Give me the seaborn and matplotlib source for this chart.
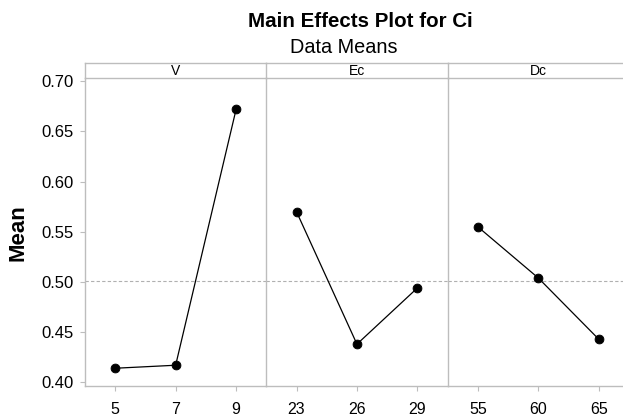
import matplotlib
matplotlib.use("Agg")
import matplotlib.pyplot as plt
import seaborn as sns
import pandas as pd

sns.set_theme(style="white")
plt.rcParams['font.family'] = ['Liberation Sans', 'DejaVu Sans']
plt.rcParams['text.color'] = 'black'
plt.rcParams['axes.labelcolor'] = 'black'
plt.rcParams['xtick.color'] = 'black'
plt.rcParams['ytick.color'] = 'black'

# Data
factors = ["V", "Ec", "Dc"]
v_levels = ["5", "7", "9"]
v_means = [0.414, 0.417, 0.672]
ec_levels = ["23", "26", "29"]
ec_means = [0.570, 0.438, 0.494]
dc_levels = ["55", "60", "65"]
dc_means = [0.555, 0.504, 0.443]
y_ticks = [0.40, 0.45, 0.50, 0.55, 0.60, 0.65, 0.70]
grand_mean = (sum(v_means) + sum(ec_means) + sum(dc_means)) / 9

levels = [v_levels, ec_levels, dc_levels]
means = [v_means, ec_means, dc_means]

W, H = 623, 419
fig = plt.figure(figsize=(W / 100, H / 100), dpi=100)

grey = "#bdbdbd"
left_px = 85.0
pw = 181.3
bottom_px = 386.0
top_px = 78.3
strip_top_px = 62.7

for i, (fac, lev, mv) in enumerate(zip(factors, levels, means)):
    x0 = (left_px + i * pw) / W
    ax = fig.add_axes([x0, (H - bottom_px) / H, pw / W, (bottom_px - top_px) / H])
    df = pd.DataFrame({"level": lev, "mean": mv})
    sns.pointplot(data=df, x="level", y="mean", color="black", ax=ax,
                  errorbar=None, markers="o", linewidth=0.9,
                  markersize=6.3)
    ax.axhline(grand_mean, color="#b0b0b0", linestyle=(0, (3, 2)), linewidth=0.8, zorder=0)
    ax.set_xlim(-0.5, 2.5)
    ax.set_ylim(0.3963, 0.703)
    ax.set_xlabel("")
    ax.set_ylabel("")
    ax.set_yticks(y_ticks)
    for side in ["top", "right"]:
        ax.spines[side].set_visible(False)
    ax.spines["bottom"].set_color(grey)
    ax.spines["left"].set_color(grey)
    ax.spines["bottom"].set_linewidth(1.0)
    ax.spines["left"].set_linewidth(1.0)
    ax.tick_params(axis="x", bottom=True, length=3.5, width=0.8, color=grey,
                   labelsize=11.5, pad=8, labelcolor="black")
    if i == 0:
        ax.set_yticklabels([f"{t:.2f}" for t in y_ticks])
        ax.tick_params(axis="y", left=True, length=3.5, width=0.8, color=grey,
                       labelsize=12, pad=5, labelcolor="black")
        ax.set_ylabel("Mean", fontsize=16, fontweight="bold", labelpad=9,
                      color="black")
    else:
        ax.tick_params(axis="y", left=False, labelleft=False)
    ax.patch.set_alpha(0)

    sax = fig.add_axes([x0, (H - top_px) / H, pw / W, (top_px - strip_top_px) / H])
    sax.set_xticks([])
    sax.set_yticks([])
    for side in ["top", "bottom", "left", "right"]:
        sax.spines[side].set_color(grey)
        sax.spines[side].set_linewidth(1.0)
    sax.spines["right"].set_visible(False)
    sax.text(0.5, 0.45, fac, ha="center", va="center", fontsize=10,
             color="black", transform=sax.transAxes)
    sax.patch.set_alpha(0)

fig.text(360 / W, 1 - 27 / H, "Main Effects Plot for Ci", ha="center",
         va="baseline", fontsize=14.8, fontweight="bold", color="black")
fig.text(343.5 / W, 1 - 53 / H, "Data Means", ha="center", va="baseline",
         fontsize=14.3, color="black")

fig.savefig("out.png", dpi=100, facecolor="white")
